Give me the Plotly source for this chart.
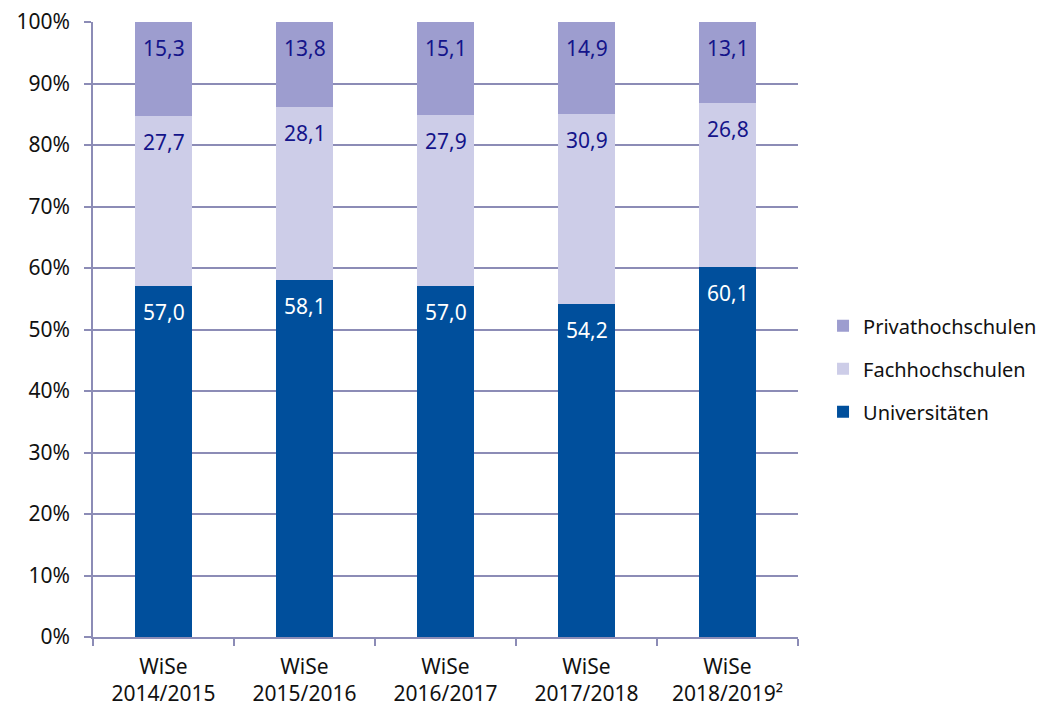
import plotly.graph_objects as go

categories = ["WiSe<br>2014/2015", "WiSe<br>2015/2016", "WiSe<br>2016/2017", "WiSe<br>2017/2018", "WiSe<br>2018/2019²"]
universitaeten = [57.0, 58.1, 57.0, 54.2, 60.1]
fachhochschulen = [27.7, 28.1, 27.9, 30.9, 26.8]
privathochschulen = [15.3, 13.8, 15.1, 14.9, 13.1]
y_ticks = [0, 10, 20, 30, 40, 50, 60, 70, 80, 90, 100]
y_tick_labels = [f"{v}%" for v in y_ticks]

FONT = "Noto Sans"
grid_col = "#8c8cb6"

series = [
    ("Universitäten", universitaeten, "#004f9c", "white", 3),
    ("Fachhochschulen", fachhochschulen, "#cdcde8", "#14148a", 2),
    ("Privathochschulen", privathochschulen, "#9d9dcf", "#14148a", 1),
]

fig = go.Figure()
annotations = []
cum = [0.0] * len(categories)
for name, vals, col, tcol, rank in series:
    fig.add_trace(go.Bar(
        x=categories, y=vals, name=name, marker=dict(color=col, line=dict(width=0)),
        legendgroup=name, legendrank=rank, hoverinfo="skip",
    ))
    for i, v in enumerate(vals):
        cum[i] += v
        annotations.append(dict(
            x=categories[i], y=cum[i], xref="x", yref="y",
            text=f"{v:.1f}".replace(".", ","), showarrow=False,
            yanchor="middle", yshift=-26,
            font=dict(family=FONT, size=21, color=tcol),
        ))

fig.update_layout(
    width=1040, height=699,
    barmode="stack", bargap=0.6,
    plot_bgcolor="white", paper_bgcolor="white",
    margin=dict(l=85, r=250, t=14, b=70, autoexpand=False),
    font=dict(family=FONT, size=21, color="#111111"),
    annotations=annotations,
    legend=dict(
        x=1.0355, y=0.436, xanchor="left", yanchor="middle",
        traceorder="grouped", tracegroupgap=14,
        font=dict(family=FONT, size=20, color="#111111"),
        itemwidth=30,
    ),
    showlegend=True,
)
fig.update_yaxes(
    range=[0, 100], tickvals=y_ticks, ticktext=y_tick_labels,
    showgrid=True, gridcolor=grid_col, gridwidth=1.5,
    showline=True, linecolor=grid_col, linewidth=1.5,
    ticks="outside", ticklen=7, tickcolor=grid_col, tickwidth=1.5,
    ticklabelstandoff=10, ticklabeloverflow="allow", automargin=False,
    zeroline=False, tickfont=dict(family=FONT, size=21, color="#111111"),
)
fig.update_xaxes(
    showline=True, linecolor=grid_col, linewidth=1.5,
    ticks="outside", tickson="boundaries", ticklen=7, tickcolor=grid_col, tickwidth=1.5,
    ticklabelstandoff=10, ticklabeloverflow="allow", automargin=False,
    showgrid=False, tickfont=dict(family=FONT, size=21, color="#111111"),
)

fig.write_html("out.html")
